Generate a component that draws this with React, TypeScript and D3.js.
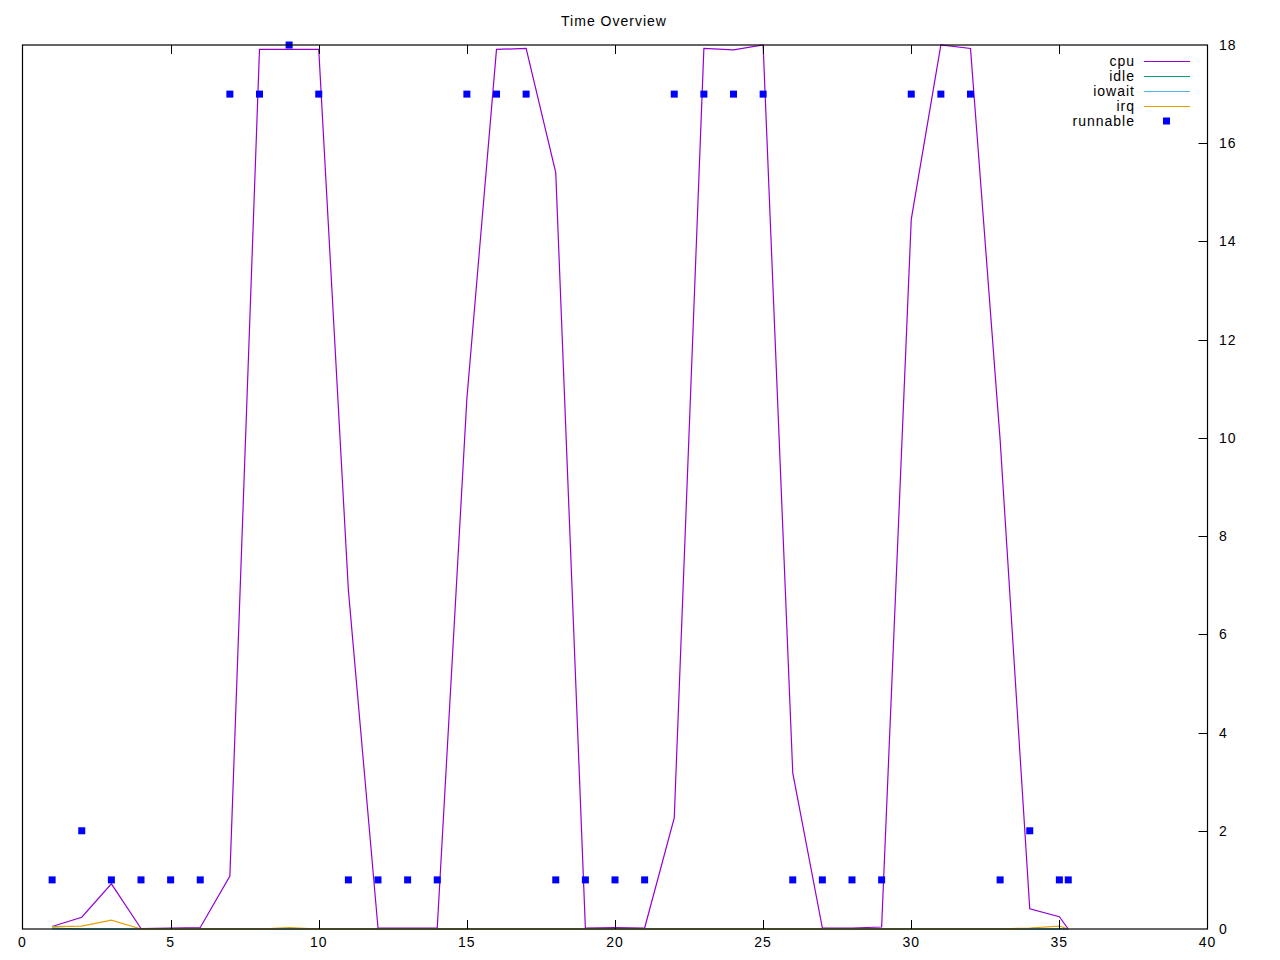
import { useEffect, useRef } from 'react'
import * as d3 from 'd3'

// sample index (seconds) and the series
const xs = [1, 2, 3, 4, 5, 6, 7, 8, 9, 10, 11, 12, 13, 14, 15, 16, 17, 18, 19, 20, 21, 22, 23, 24, 25, 26, 27, 28, 29, 30, 31, 32, 33, 34, 35, 35.3]
const cpu = [0.05, 0.24, 0.92, 0.01, 0.02, 0.03, 1.08, 17.91, 17.91, 17.91, 6.9, 0.02, 0.02, 0.02, 10.8, 17.91, 17.93, 15.4, 0.02, 0.03, 0.02, 2.26, 17.93, 17.9, 18.0, 3.18, 0.02, 0.02, 0.04, 14.45, 18.0, 17.93, 9.96, 0.41, 0.25, 0]
const idle = [0.02, 0, 0, 0, 0, 0, 0, 0, 0, 0, 0, 0, 0, 0, 0, 0, 0, 0, 0, 0, 0, 0, 0, 0, 0, 0, 0, 0, 0, 0, 0, 0, 0, 0, 0, 0]
const iowait = [0, 0, 0, 0, 0, 0, 0, 0, 0, 0, 0, 0, 0, 0, 0, 0, 0, 0, 0, 0, 0, 0, 0, 0, 0, 0, 0, 0, 0, 0, 0, 0, 0, 0, 0, 0]
const irq = [0.05, 0.06, 0.18, 0, 0, 0, 0, 0, 0.03, 0, 0, 0, 0, 0, 0, 0, 0, 0, 0, 0, 0, 0, 0, 0, 0, 0, 0, 0, 0, 0, 0, 0, 0, 0.02, 0.06, 0]
const runnable = [1, 2, 1, 1, 1, 1, 17, 17, 18, 17, 1, 1, 1, 1, 17, 17, 17, 1, 1, 1, 1, 17, 17, 17, 17, 1, 1, 1, 1, 17, 17, 17, 1, 2, 1, 1]

const xTicks = [0, 5, 10, 15, 20, 25, 30, 35, 40]
const yTicks = [0, 2, 4, 6, 8, 10, 12, 14, 16, 18]

const SERIES = [
  { name: 'cpu', values: cpu, color: '#9400d3' },
  { name: 'idle', values: idle, color: '#009e73' },
  { name: 'iowait', values: iowait, color: '#56b4e9' },
  { name: 'irq', values: irq, color: '#e69f00' }
]

const W = 1280
const H = 960
const FONT = '"Liberation Sans", Arial, sans-serif'

export default function App() {
  const ref = useRef<SVGSVGElement | null>(null)

  useEffect(() => {
    if (!ref.current) return
    const svg = d3.select(ref.current)
    svg.selectAll('*').remove()

    const left = 22.5
    const right = 1207.5
    const top = 45
    const bottom = 929

    const x = d3.scaleLinear().domain([0, 40]).range([left, right])
    const y = d3.scaleLinear().domain([0, 18]).range([bottom, top])

    svg.append('rect').attr('width', W).attr('height', H).attr('fill', '#fff')

    // title
    svg.append('text')
      .attr('x', 614)
      .attr('y', 26)
      .attr('text-anchor', 'middle')
      .attr('font-family', FONT)
      .attr('font-size', 14)
      .attr('letter-spacing', 1)
      .text('Time Overview')

    // series lines
    const line = d3.line<number>()
      .x((_, i) => x(xs[i]))
      .y((d) => y(d))
    SERIES.forEach((s) => {
      svg.append('path')
        .attr('d', line(s.values) as string)
        .attr('fill', 'none')
        .attr('stroke', s.color)
        .attr('stroke-width', 1.2)
    })

    // runnable points
    svg.append('g')
      .selectAll('rect')
      .data(runnable)
      .join('rect')
      .attr('x', (_, i) => x(xs[i]) - 3.5)
      .attr('y', (d) => y(d) - 3.5)
      .attr('width', 7)
      .attr('height', 7)
      .attr('fill', '#0000ff')

    // border
    svg.append('rect')
      .attr('x', left)
      .attr('y', top)
      .attr('width', right - left)
      .attr('height', bottom - top)
      .attr('fill', 'none')
      .attr('stroke', '#000')
      .attr('stroke-width', 1.2)

    // x ticks (bottom + mirrored top)
    xTicks.forEach((t) => {
      const px = Math.round(x(t)) + 0.5
      if (t > 0 && t < 40) {
        svg.append('line').attr('x1', px).attr('x2', px).attr('y1', bottom).attr('y2', bottom - 9).attr('stroke', '#000')
        svg.append('line').attr('x1', px).attr('x2', px).attr('y1', top).attr('y2', top + 9).attr('stroke', '#000')
      }
      svg.append('text')
        .attr('x', x(t))
        .attr('y', 947)
        .attr('text-anchor', 'middle')
        .attr('font-family', FONT)
        .attr('font-size', 14)
        .attr('letter-spacing', 1)
        .text(String(t))
    })

    // y ticks on the right
    yTicks.forEach((t) => {
      const py = Math.round(y(t)) + 0.5
      if (t > 0 && t < 18) {
        svg.append('line').attr('x1', right).attr('x2', right - 9).attr('y1', py).attr('y2', py).attr('stroke', '#000')
      }
      svg.append('text')
        .attr('x', 1219)
        .attr('y', y(t) + 5)
        .attr('font-family', FONT)
        .attr('font-size', 14)
        .attr('letter-spacing', 1)
        .text(String(t))
    })

    // legend
    const legend = [...SERIES.map((s) => ({ name: s.name, color: s.color, point: false })), { name: 'runnable', color: '#0000ff', point: true }]
    legend.forEach((l, i) => {
      const ly = 61 + i * 15
      svg.append('text')
        .attr('x', 1135)
        .attr('y', ly + 5)
        .attr('text-anchor', 'end')
        .attr('font-family', FONT)
        .attr('font-size', 14)
        .attr('letter-spacing', 1)
        .text(l.name)
      if (l.point) {
        svg.append('rect').attr('x', 1163).attr('y', ly - 3.5).attr('width', 7).attr('height', 7).attr('fill', l.color)
      } else {
        svg.append('line').attr('x1', 1144).attr('x2', 1190).attr('y1', ly + 0.5).attr('y2', ly + 0.5).attr('stroke', l.color).attr('stroke-width', 1.2)
      }
    })
  }, [])

  return (
    <svg
      ref={ref}
      width={W}
      height={H}
      style={{ position: 'absolute', left: 0, top: 0, display: 'block' }}
    />
  )
}
